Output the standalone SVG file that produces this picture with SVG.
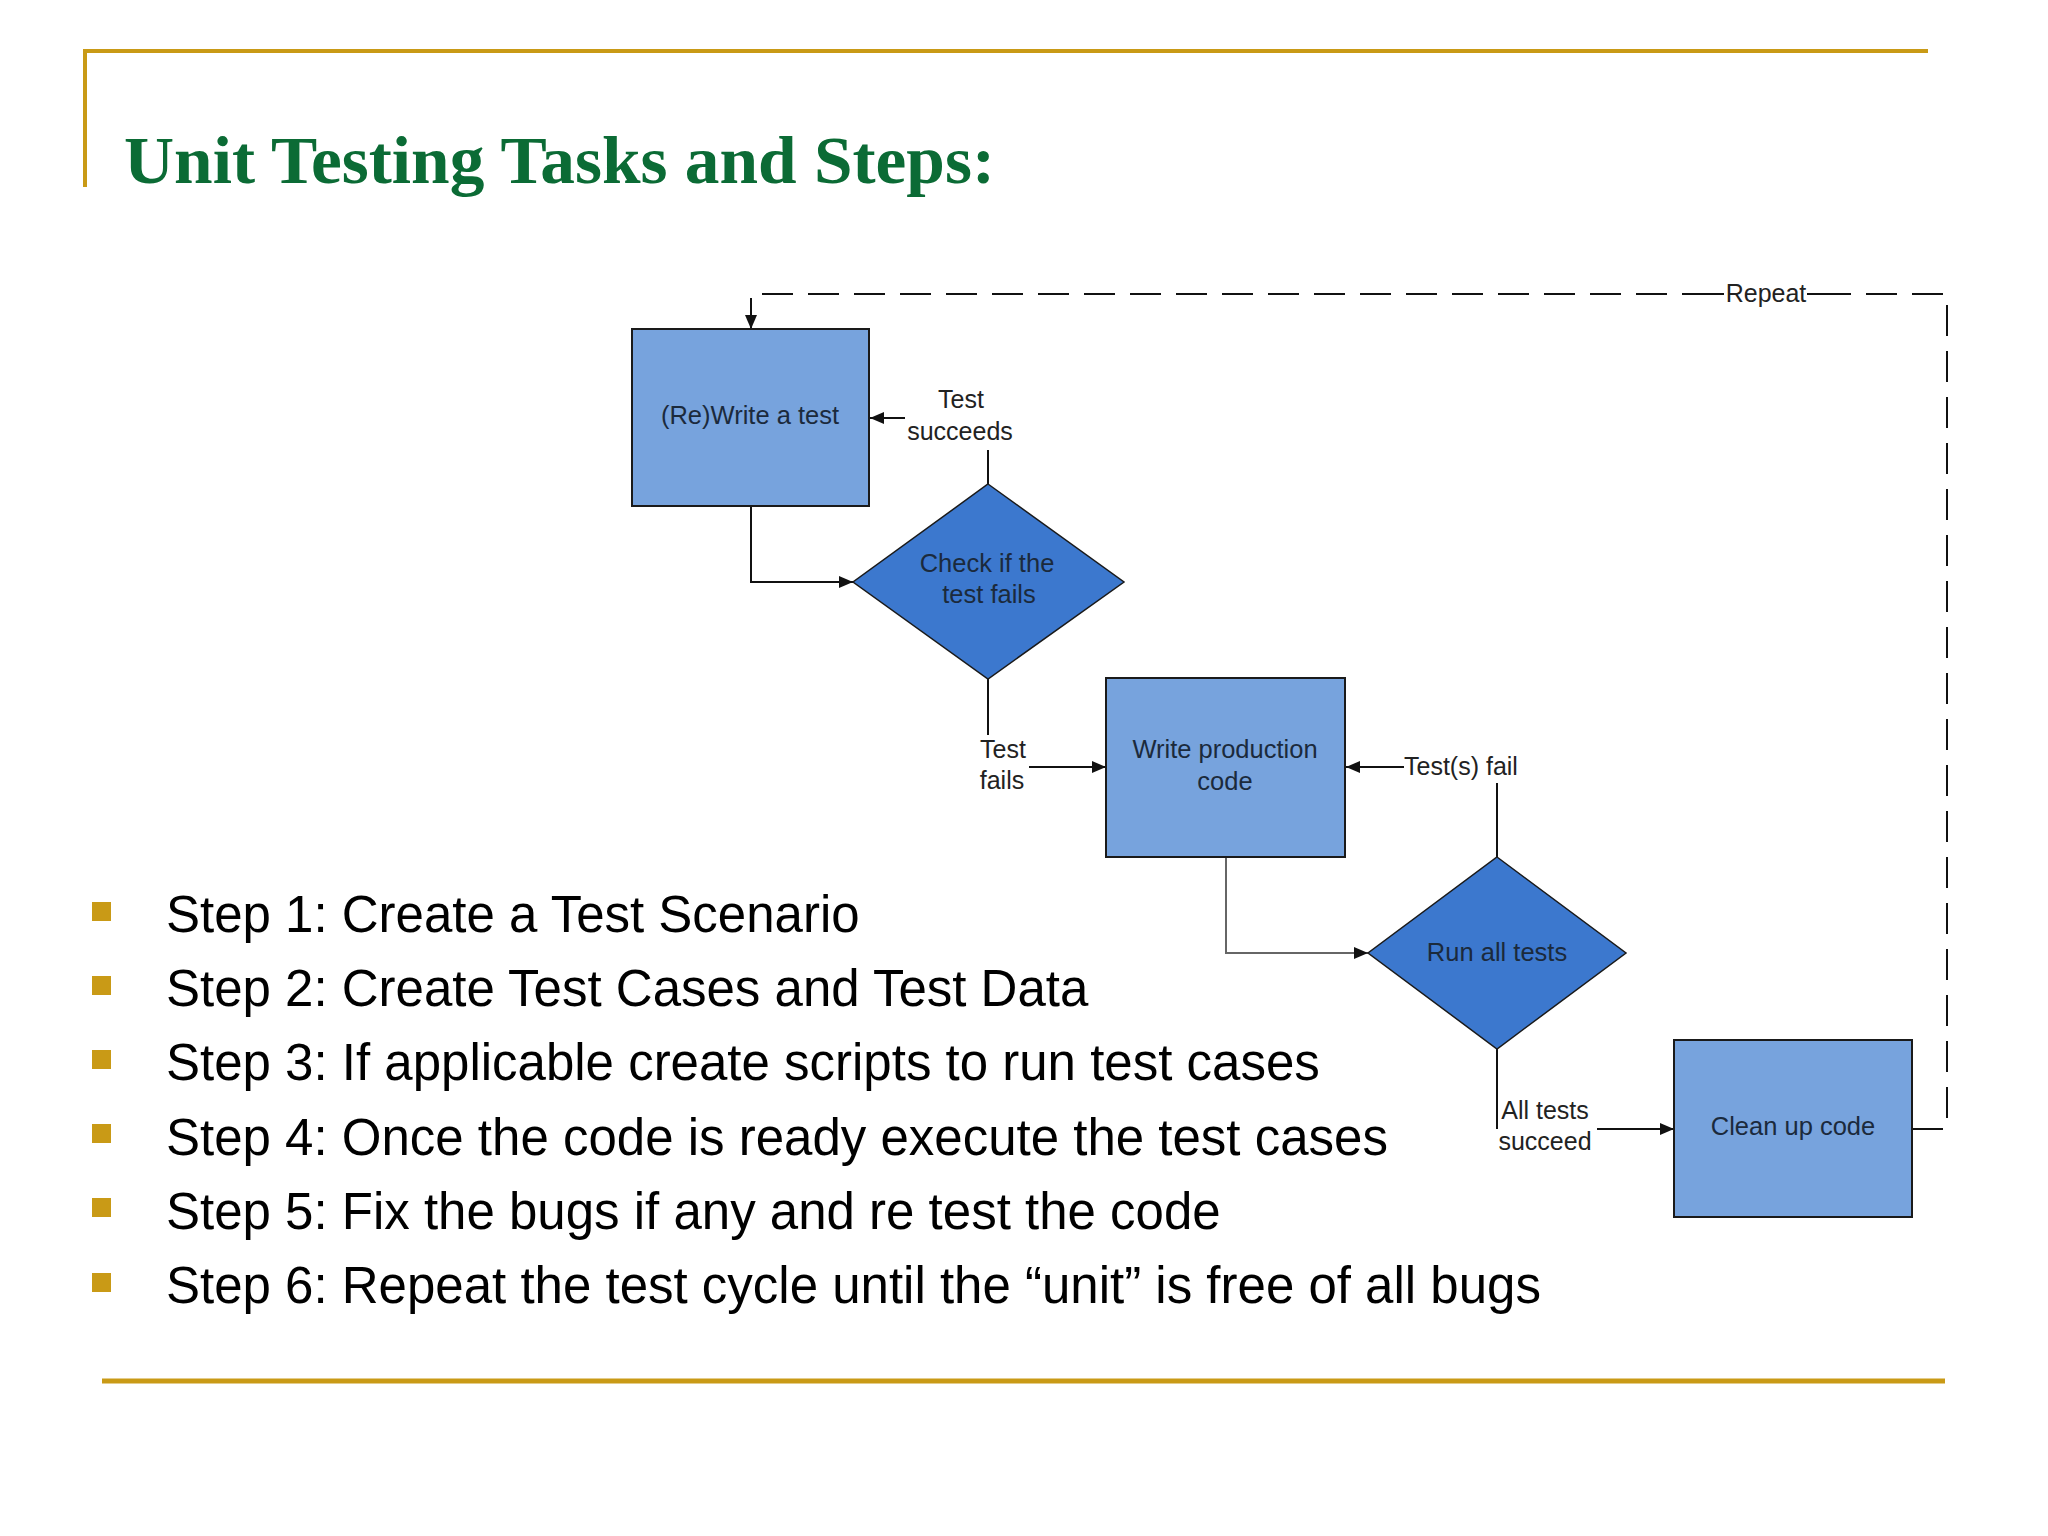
<svg xmlns="http://www.w3.org/2000/svg" width="2048" height="1536" viewBox="0 0 2048 1536">
<defs>
<style>
.gold{stroke:#C99A16;stroke-width:4;fill:none}
.box{fill:#77A3DD;stroke:#1a1a1a;stroke-width:2}
.dia{fill:#3C78CE;stroke:#1a1a1a;stroke-width:1.5}
.nt{font-family:"Liberation Sans",Arial,sans-serif;font-size:25.5px;fill:#1B2A3C;text-anchor:middle}
.lbl{font-family:"Liberation Sans",Arial,sans-serif;font-size:25px;fill:#222;text-anchor:middle}
.step{font-family:"Liberation Sans",Arial,sans-serif;font-size:51px;fill:#000}
.con{stroke:#111;stroke-width:2;fill:none}
.bul{fill:#C99A16}
</style>
<marker id="ah" viewBox="0 0 14 12" refX="14" refY="6" markerWidth="14" markerHeight="12" markerUnits="userSpaceOnUse" orient="auto">
<path d="M0,0 L14,6 L0,12 Z" fill="#111"/>
</marker>
</defs>
<rect width="2048" height="1536" fill="#ffffff"/>
<g id="frame">
<line class="gold" x1="84" y1="51" x2="1928" y2="51"/>
<line class="gold" x1="85" y1="49" x2="85" y2="187"/>
<line class="gold" x1="102" y1="1381" x2="1945" y2="1381" style="stroke-width:5"/>
</g>
<text id="title" x="124" y="183" font-family="'Liberation Serif','Times New Roman',serif" font-size="68" font-weight="bold" fill="#0B6B35" textLength="871" lengthAdjust="spacingAndGlyphs">Unit Testing Tasks and Steps:</text>
<g id="connectors">
<path class="con" d="M1912,1129 H1947 V294 H751 V329" stroke-dasharray="31 15" marker-end="url(#ah)"/>
<rect x="1722" y="280" width="88" height="28" fill="#ffffff"/>
<line class="con" x1="1708" y1="294" x2="1724" y2="294"/>
<line class="con" x1="1807" y1="294" x2="1822" y2="294"/>
<text class="lbl" x="1766" y="302">Repeat</text>
<path class="con" d="M751,506 V582 H853" marker-end="url(#ah)"/>
<path class="con" d="M988,484 V450"/>
<path class="con" d="M905,418 H870" marker-end="url(#ah)"/>
<text class="lbl" x="961" y="408">Test</text>
<text class="lbl" x="960" y="440">succeeds</text>
<path class="con" d="M988,679 V735"/>
<text class="lbl" x="1003" y="758">Test</text>
<text class="lbl" x="1002" y="789">fails</text>
<path class="con" d="M1029,767 H1106" marker-end="url(#ah)"/>
<path class="con" d="M1497,857 V783"/>
<path class="con" d="M1404,767 H1346" marker-end="url(#ah)"/>
<text class="lbl" x="1404" y="775" style="text-anchor:start">Test(s) fail</text>
<path class="con" d="M1226,857 V953 H1368" style="stroke:#666" marker-end="url(#ah)"/>
<path class="con" d="M1497,1049 V1129"/>
<text class="lbl" x="1545" y="1119">All tests</text>
<text class="lbl" x="1545" y="1150">succeed</text>
<path class="con" d="M1597,1129 H1674" marker-end="url(#ah)"/>
</g>
<g id="node-rewrite">
<rect class="box" x="632" y="329" width="237" height="177"/>
<text class="nt" x="750" y="424">(Re)Write a test</text>
</g>
<g id="node-check">
<polygon class="dia" points="988,484 1124,582 988,679 853,582"/>
<text class="nt" x="987" y="572">Check if the</text>
<text class="nt" x="989" y="603">test fails</text>
</g>
<g id="node-write">
<rect class="box" x="1106" y="678" width="239" height="179"/>
<text class="nt" x="1225" y="758">Write production</text>
<text class="nt" x="1225" y="790">code</text>
</g>
<g id="node-run">
<polygon class="dia" points="1497,857 1626,953 1497,1049 1368,953"/>
<text class="nt" x="1497" y="961">Run all tests</text>
</g>
<g id="node-clean">
<rect class="box" x="1674" y="1040" width="238" height="177"/>
<text class="nt" x="1793" y="1135">Clean up code</text>
</g>
<g id="steps">
<rect class="bul" x="92" y="902" width="19" height="19"/>
<rect class="bul" x="92" y="976" width="19" height="19"/>
<rect class="bul" x="92" y="1050" width="19" height="19"/>
<rect class="bul" x="92" y="1124" width="19" height="19"/>
<rect class="bul" x="92" y="1198" width="19" height="19"/>
<rect class="bul" x="92" y="1273" width="19" height="19"/>
<text class="step" x="166" y="932">Step 1: Create a Test Scenario</text>
<text class="step" x="166" y="1006">Step 2: Create Test Cases and Test Data</text>
<text class="step" x="166" y="1080">Step 3: If applicable create scripts to run test cases</text>
<text class="step" x="166" y="1155">Step 4: Once the code is ready execute the test cases</text>
<text class="step" x="166" y="1229">Step 5: Fix the bugs if any and re test the code</text>
<text class="step" x="166" y="1303">Step 6: Repeat the test cycle until the “unit” is free of all bugs</text>
</g>
</svg>
